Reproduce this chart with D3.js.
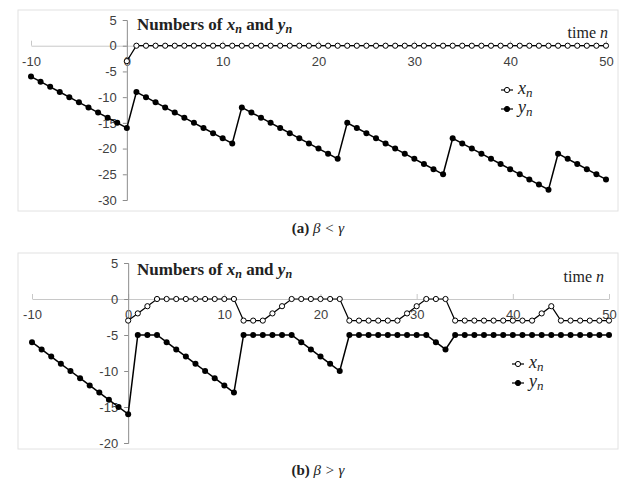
<!DOCTYPE html>
<meta charset="utf-8">
<style>
body { margin: 0; background: #fff; }
.tick text { font: 13px "Liberation Sans", sans-serif; fill: #404040; }
.yaxis path, .yaxis line { stroke: #8c8c8c; }
.xaxis path, .xaxis line { stroke: #c8c8c8; }
.serif { font-family: "Liberation Serif", "DejaVu Serif", serif; fill: #222; }
</style>
<body>
<script src="https://cdn.jsdelivr.net/npm/d3@7"></script>
<script>

// time steps
var nY = d3.range(-10, 51);   // y_n defined from -10
var nX = d3.range(0, 51);     // x_n defined from 0

// panel (a): beta < gamma
var xA = [-3].concat(d3.range(1, 51).map(function() { return 0; }));
var yA = [-6,-7,-8,-9,-10,-11,-12,-13,-14,-15,-16,
  -9,-10,-11,-12,-13,-14,-15,-16,-17,-18,-19,
  -12,-13,-14,-15,-16,-17,-18,-19,-20,-21,-22,
  -15,-16,-17,-18,-19,-20,-21,-22,-23,-24,-25,
  -18,-19,-20,-21,-22,-23,-24,-25,-26,-27,-28,
  -21,-22,-23,-24,-25,-26];

// panel (b): beta > gamma
var xB = [-3,-2,-1,0,0,0,0,0,0,0,0,0,
  -3,-3,-3,-2,-1,0,0,0,0,0,0,
  -3,-3,-3,-3,-3,-3,-2,-1,0,0,0,
  -3,-3,-3,-3,-3,-3,-3,-3,-3,-2,-1,
  -3,-3,-3,-3,-3,-3];
var yB = [-6,-7,-8,-9,-10,-11,-12,-13,-14,-15,-16,
  -5,-5,-5,-6,-7,-8,-9,-10,-11,-12,-13,
  -5,-5,-5,-5,-5,-5,-6,-7,-8,-9,-10,
  -5,-5,-5,-5,-5,-5,-5,-5,-5,-6,-7,
  -5,-5,-5,-5,-5,-5,-5,-5,-5,-5,-5,-5,-5,-5,-5,-5,-5];

var xTicks = [-10, 0, 10, 20, 30, 40, 50];

var svg = d3.select("body").append("svg")
    .attr("width", 636)
    .attr("height", 496);

function panel(opt) {
  var g = svg.append("g");

  g.append("rect")
      .attr("x", 18).attr("y", opt.top)
      .attr("width", 600).attr("height", opt.boxH)
      .attr("fill", "none").attr("stroke", "#e2e2e2");

  var x = d3.scaleLinear().domain([-10, 50]).range(opt.xr);
  var y = d3.scaleLinear().domain(opt.yd).range(opt.yr);

  g.append("g")
      .attr("class", "xaxis")
      .attr("transform", "translate(0," + y(0) + ")")
      .call(d3.axisBottom(x).tickValues(xTicks).tickFormat(String)
        .tickSizeInner(-5).tickSizeOuter(0).tickPadding(11));

  g.append("g")
      .attr("class", "yaxis")
      .attr("transform", "translate(" + x(0) + ",0)")
      .call(d3.axisLeft(y).tickValues(d3.range(opt.yd[0], 6, 5)).tickFormat(String)
        .tickSizeInner(4).tickSizeOuter(4).tickPadding(6));

  var line = d3.line()
      .x(function(d) { return x(d[0]); })
      .y(function(d) { return y(d[1]); });

  var ys = d3.zip(nY, opt.yv);
  var xs = d3.zip(nX, opt.xv);

  g.append("path").datum(ys).attr("d", line)
      .attr("fill", "none").attr("stroke", "#000").attr("stroke-width", 1.5);
  g.selectAll(".py").data(ys).enter().append("circle")
      .attr("cx", function(d) { return x(d[0]); })
      .attr("cy", function(d) { return y(d[1]); })
      .attr("r", 3).attr("fill", "#000");

  g.append("path").datum(xs).attr("d", line)
      .attr("fill", "none").attr("stroke", "#000").attr("stroke-width", 1.2);
  g.selectAll(".px").data(xs).enter().append("circle")
      .attr("cx", function(d) { return x(d[0]); })
      .attr("cy", function(d) { return y(d[1]); })
      .attr("r", 2.6).attr("fill", "#fff").attr("stroke", "#000").attr("stroke-width", 1);

  // title
  var t = g.append("text").attr("class", "serif")
      .attr("x", 137).attr("y", opt.titleY)
      .style("font-size", "17px").style("font-weight", "bold");
  t.append("tspan").text("Numbers of ");
  t.append("tspan").style("font-style", "italic").text("x");
  t.append("tspan").attr("dy", 3).style("font-size", "12px").style("font-style", "italic").text("n");
  t.append("tspan").attr("dy", -3).text(" and ");
  t.append("tspan").style("font-style", "italic").text("y");
  t.append("tspan").attr("dy", 3).style("font-size", "12px").style("font-style", "italic").text("n");

  var tn = g.append("text").attr("class", "serif")
      .attr("x", opt.timeX).attr("y", opt.timeY)
      .attr("text-anchor", "end")
      .style("font-size", "16px");
  tn.append("tspan").text("time ");
  tn.append("tspan").style("font-style", "italic").text("n");

  // legend
  [["x", "#fff"], ["y", "#000"]].forEach(function(l, i) {
    var ly = opt.legY + i * 19;
    g.append("line")
        .attr("x1", opt.legX - 6).attr("x2", opt.legX + 6)
        .attr("y1", ly).attr("y2", ly)
        .attr("stroke", "#000").attr("stroke-width", 1.2);
    g.append("circle")
        .attr("cx", opt.legX).attr("cy", ly).attr("r", 2.6)
        .attr("fill", l[1]).attr("stroke", "#000");
    var lt = g.append("text").attr("class", "serif")
        .attr("x", opt.legX + 11).attr("y", ly + 4)
        .style("font-size", "18px").style("font-style", "italic");
    lt.append("tspan").text(l[0]);
    lt.append("tspan").attr("dy", 3).style("font-size", "13px").text("n");
  });

  // caption
  var c = g.append("text").attr("class", "serif")
      .attr("x", 318).attr("y", opt.capY)
      .attr("text-anchor", "middle")
      .style("font-size", "15px");
  c.append("tspan").style("font-weight", "bold").text(opt.cap);
  c.append("tspan").style("font-style", "italic").text("  \u03b2 " + opt.rel + " \u03b3");
}

panel({
  top: 10, boxH: 201,
  xr: [31, 606], yd: [-30, 5], yr: [200, 20],
  xv: xA, yv: yA,
  titleY: 30, timeX: 608, timeY: 38,
  legX: 507, legY: 90,
  cap: "(a)", rel: "<", capY: 233
});

panel({
  top: 253, boxH: 196,
  xr: [32, 609], yd: [-20, 5], yr: [443, 263],
  xv: xB, yv: yB,
  titleY: 275, timeX: 604, timeY: 282,
  legX: 518, legY: 364,
  cap: "(b)", rel: ">", capY: 475
});

</script>
</body>
